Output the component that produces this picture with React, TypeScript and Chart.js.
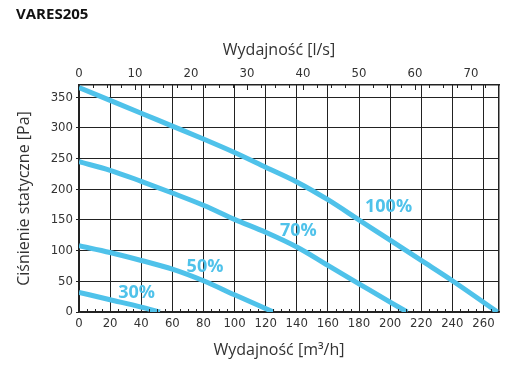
import { useEffect, useRef } from "react";
import { Chart, registerables } from "chart.js";

Chart.register(...registerables);

// ---- data (flow in m³/h, static pressure in Pa) ----
const flow100 = [0, 20, 40, 60, 80, 100, 120, 140, 160, 180, 200, 220, 240, 260, 269];
const pres100 = [366, 345, 324, 303, 282, 260, 236, 212, 183, 150, 117, 84, 51, 16, 0];
const flow70 = [0, 20, 40, 60, 80, 100, 120, 140, 160, 180, 200, 211];
const pres70 = [245, 231, 213, 194, 174, 151, 130, 106, 76, 46, 16, 0];
const flow50 = [0, 20, 40, 60, 80, 100, 125];
const pres50 = [108, 97, 84, 70, 51, 28, 0];
const flow30 = [0, 20, 40, 52];
const pres30 = [32, 20, 8, 0];

const seriesNames = ["100%", "70%", "50%", "30%"];
const labelFlow = [199, 141, 81, 37];
const labelPres = [172, 132, 74, 31];

const chartTitle = "VARES205";
const bottomTitle = "Wydajność [m³/h]";
const topTitle = "Wydajność [l/s]";
const leftTitle = "Ciśnienie statyczne [Pa]";

// tick labels
const flowTicks = [0, 20, 40, 60, 80, 100, 120, 140, 160, 180, 200, 220, 240, 260];
const lsTicks = [0, 10, 20, 30, 40, 50, 60, 70];
const presTicks = [0, 50, 100, 150, 200, 250, 300, 350];

const flowMax = 270; // m³/h
const lsFactor = 3.6; // 1 l/s = 3.6 m³/h
const presMax = 370;

const curveColor = "#4fc2ea";
const gridColor = "#222";
const textColor = "#333";
const tickFont = "'DejaVu Sans Condensed', 'Liberation Sans Narrow', Roboto, sans-serif";
const titleFont = "'Open Sans', 'Noto Sans', sans-serif";

function pts(xs: number[], ys: number[]) {
  return xs.map((x, i) => ({ x, y: ys[i] }));
}

const decorPlugin = {
  id: "decor",
  afterDraw(chart: any) {
    const ctx = chart.ctx as CanvasRenderingContext2D;
    const area = chart.chartArea;
    const xs = chart.scales.x;
    const xt = chart.scales.xTop;
    const ys = chart.scales.y;
    ctx.save();
    // minor ticks
    ctx.strokeStyle = gridColor;
    ctx.lineWidth = 1;
    ctx.beginPath();
    for (let v = 5; v < flowMax; v += 5) {
      if (flowTicks.includes(v)) continue;
      const px = Math.round(xs.getPixelForValue(v)) + 0.5;
      ctx.moveTo(px, area.bottom);
      ctx.lineTo(px, area.bottom - 3);
    }
    for (let v = 2.5; v < flowMax / lsFactor; v += 2.5) {
      const len = lsTicks.includes(v) ? 5 : 3;
      const px = Math.round(xt.getPixelForValue(v)) + 0.5;
      ctx.moveTo(px, area.top);
      ctx.lineTo(px, area.top + len);
    }
    ctx.stroke();

    // series labels
    ctx.fillStyle = curveColor;
    ctx.font = `bold 18px ${titleFont}`;
    ctx.textAlign = "center";
    ctx.textBaseline = "middle";
    seriesNames.forEach((n, i) => {
      ctx.fillText(n, xs.getPixelForValue(labelFlow[i]), ys.getPixelForValue(labelPres[i]));
    });

    // axis titles (top / bottom)
    const cx = (area.left + area.right) / 2 - 10;
    ctx.fillStyle = textColor;
    ctx.font = `16px ${titleFont}`;
    ctx.fillText(topTitle, cx, 50);
    ctx.fillText(bottomTitle, cx, 350);

    // chart title
    ctx.fillStyle = "#111";
    ctx.font = `bold 15px ${titleFont}`;
    ctx.textAlign = "left";
    ctx.textBaseline = "alphabetic";
    ctx.fillText(chartTitle, 16, 19);
    ctx.restore();
  },
};

export default function App() {
  const ref = useRef<HTMLCanvasElement | null>(null);
  useEffect(() => {
    if (!ref.current) return;
    const ds = (data: any, label: string) => ({
      label,
      data,
      borderColor: curveColor,
      borderWidth: 5,
      pointRadius: 0,
      fill: false,
      cubicInterpolationMode: "monotone" as const,
      xAxisID: "x",
      yAxisID: "y",
    });
    const tickOpts = {
      autoSkip: false,
      maxRotation: 0,
      padding: 4,
      color: textColor,
      font: { family: tickFont, size: 13 },
    };
    const chart = new Chart(ref.current, {
      type: "line",
      data: {
        datasets: [
          ds(pts(flow100, pres100), seriesNames[0]),
          ds(pts(flow70, pres70), seriesNames[1]),
          ds(pts(flow50, pres50), seriesNames[2]),
          ds(pts(flow30, pres30), seriesNames[3]),
        ],
      },
      options: {
        animation: false,
        responsive: false,
        devicePixelRatio: 1,
        layout: { padding: 0 },
        plugins: { legend: { display: false }, tooltip: { enabled: false }, title: { display: false } },
        scales: {
          x: {
            type: "linear",
            position: "bottom",
            min: 0,
            max: flowMax,
            afterBuildTicks: (s: any) => {
              s.ticks = flowTicks.map((value) => ({ value }));
            },
            afterFit: (s: any) => {
              s.height = 67;
            },
            ticks: { ...tickOpts },
            grid: { color: gridColor, lineWidth: 1, drawTicks: false },
            border: { display: true, color: gridColor, width: 1.5 },
          },
          xTop: {
            type: "linear",
            position: "top",
            min: 0,
            max: flowMax / lsFactor,
            afterBuildTicks: (s: any) => {
              s.ticks = lsTicks.map((value) => ({ value }));
            },
            afterFit: (s: any) => {
              s.height = 85;
            },
            ticks: { ...tickOpts },
            grid: { drawOnChartArea: false, drawTicks: false },
            border: { display: true, color: gridColor, width: 1.5 },
          },
          y: {
            type: "linear",
            position: "left",
            min: 0,
            max: presMax,
            afterBuildTicks: (s: any) => {
              s.ticks = presTicks.map((value) => ({ value }));
            },
            afterFit: (s: any) => {
              s.width = 79;
            },
            ticks: { ...tickOpts, padding: 3 },
            grid: { color: gridColor, lineWidth: 1, drawTicks: true, tickLength: 3 },
            border: { display: true, color: gridColor, width: 1.5 },
            title: {
              display: true,
              text: leftTitle,
              color: textColor,
              font: { family: titleFont, size: 16 },
              padding: { top: 15, bottom: 0 },
            },
          },
          yRight: {
            type: "linear",
            position: "right",
            min: 0,
            max: presMax,
            afterFit: (s: any) => {
              s.width = 33;
            },
            ticks: { display: false },
            grid: { drawOnChartArea: false, drawTicks: false },
            border: { display: true, color: gridColor, width: 1.5 },
          },
        },
      } as any,
      plugins: [decorPlugin],
    });
    return () => chart.destroy();
  }, []);
  return (
    <div style={{ position: "fixed", left: 0, top: 0, width: 532, height: 379, background: "#fff" }}>
      <canvas ref={ref} width={532} height={379} />
    </div>
  );
}
